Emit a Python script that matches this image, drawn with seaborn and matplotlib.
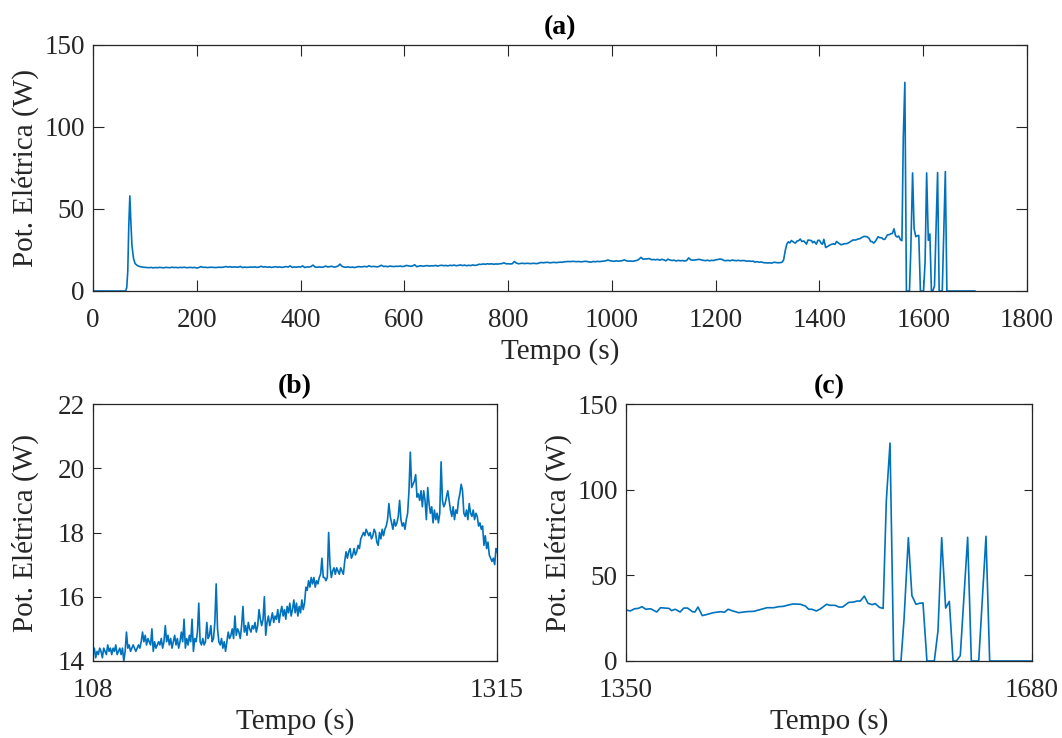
import numpy as np
import pandas as pd
import matplotlib
matplotlib.use("Agg")
import matplotlib.pyplot as plt
import seaborn as sns

# ---------------- data ----------------
# start of test (s, W)
t_head = [0, 63, 65, 67, 69, 71, 73, 75, 78, 81, 85, 89, 93, 97, 101, 105]
p_head = [0, 0, 2, 12, 40, 58, 42, 28, 20, 16.8, 15.6, 15.0, 14.7, 14.5, 14.4, 14.3]

# steady section, sampled every 4 s starting at 108 s (W)
mid_start = 108
mid_step = 4
p_mid = [
    14.2, 14.4, 14.1, 14.3, 14.2, 14.4, 14.3, 14.1, 14.4, 14.3, 14.2, 14.5, 14.3, 14.4, 14.2, 14.4, 14.3, 14.5, 14.2, 14.3, 14.4, 14.2, 14.4, 14.0, 14.3,
    14.9, 14.4, 14.5, 14.3, 14.4, 14.5, 14.4, 14.3, 14.4, 14.5, 14.4, 14.6, 14.9, 14.6, 14.8, 14.5, 14.7, 14.6, 14.5, 15.0, 14.3, 14.6, 14.4, 14.5, 14.6,
    14.5, 14.7, 14.4, 14.6, 15.1, 14.6, 14.8, 14.5, 14.7, 14.4, 14.6, 14.8, 14.5, 14.7, 14.4, 14.6, 14.9, 14.6, 15.3, 14.4, 14.7, 14.5, 14.8, 14.6, 15.3,
    14.3, 14.7, 14.6, 14.9, 15.8, 14.6, 14.5, 14.7, 14.5, 14.6, 15.2, 14.7, 14.8, 15.1, 14.6, 14.7, 15.2, 16.4, 15.0, 14.6, 14.5, 14.7, 14.4, 14.6, 14.3,
    14.6, 14.9, 14.7, 14.8, 15.0, 14.7, 15.4, 14.8, 15.0, 14.9, 14.7, 15.1, 15.7, 14.9, 15.1, 14.8, 15.2, 15.0, 14.9, 15.1, 15.0, 15.2, 14.9, 15.1, 15.6,
    15.3, 15.1, 15.3, 16.0, 14.8, 15.2, 15.4, 15.1, 15.3, 15.5, 15.2, 15.4, 15.3, 15.6, 15.2, 15.5, 15.7, 15.4, 15.6, 15.3, 15.7, 15.5, 15.8, 15.4, 15.6,
    15.9, 15.5, 15.8, 15.4, 15.7, 15.5, 15.9, 15.6, 15.8, 16.3, 16.2, 16.5, 16.3, 16.6, 16.4, 16.6, 16.3, 16.5, 16.4, 16.6, 16.7, 17.2, 16.6, 16.6, 16.5,
    16.6, 18.0, 17.0, 16.6, 16.8, 16.9, 16.7, 16.9, 16.8, 16.7, 16.9, 16.8, 16.7, 17.1, 17.4, 17.2, 17.4, 17.5, 17.2, 17.3, 17.5, 17.3, 17.4, 17.6, 17.5,
    17.8, 17.9, 18.0, 17.9, 18.1, 18.0, 17.9, 18.0, 17.8, 17.9, 18.1, 18.0, 17.7, 17.6, 18.0, 17.8, 18.1, 17.9, 18.1, 18.2, 18.4, 18.9, 18.5, 18.3, 18.1,
    18.4, 18.2, 18.3, 18.5, 19.0, 18.4, 18.2, 18.3, 18.1, 18.4, 18.6, 19.3, 20.5, 19.4, 19.5, 19.6, 19.8, 19.1, 19.2, 19.0, 19.3, 18.8, 19.3, 19.0, 18.4,
    19.4, 18.9, 18.6, 18.8, 18.3, 18.7, 18.4, 18.6, 18.3, 18.6, 20.2, 19.0, 18.8, 18.9, 19.1, 19.3, 19.0, 18.7, 18.5, 18.8, 18.4, 18.7, 18.6, 19.0, 19.2,
    19.5, 19.3, 18.6, 18.5, 18.7, 18.4, 18.9, 18.6, 18.5, 18.7, 18.4, 18.6, 18.5, 18.2, 18.3, 18.1, 18.2, 17.6, 17.9, 17.5, 17.7, 17.3, 17.2, 17.1, 17.2, 17.0, 17.5,
]

# end of test (s, W)
t_tail = [1316, 1320, 1324, 1328, 1331, 1334, 1337, 1340, 1343, 1346,
          1350, 1353.5, 1357, 1360, 1363, 1366, 1370, 1375, 1378, 1385,
          1387, 1390, 1394, 1397, 1400, 1404, 1406, 1408.5, 1412, 1416,
          1421, 1427, 1430, 1433, 1436, 1441.6, 1448, 1454, 1459, 1464.6,
          1470, 1474, 1478, 1482, 1486, 1491.7, 1495.8, 1498.5, 1501, 1504.7,
          1508, 1513, 1516, 1520, 1523, 1526, 1531, 1535, 1537.8, 1540.5,
          1543.7, 1546.7, 1550, 1552.6, 1556, 1559, 1561.6, 1564.6, 1567.6, 1573.5,
          1576, 1579.5, 1582.4, 1585.7, 1588.7, 1591.4, 1594.6, 1600.6, 1603.6, 1606.6,
          1609.8, 1612.8, 1615.8, 1618.5, 1621.7, 1627.7, 1630.7, 1636.7, 1642.6, 1645.6,
          1700]
p_tail = [17.4, 17.2, 17.3, 17.5, 19.0, 24.5, 28.5, 30.0, 29.3, 30.8,
          29.8, 29.2, 30.5, 30.7, 31.7, 30.2, 30.5, 28.6, 31.1, 30.7,
          29.4, 30.2, 28.6, 30.9, 30.9, 28.8, 28.6, 31.5, 26.5, 27.2,
          28.2, 28.8, 28.4, 30.2, 29.4, 28.2, 28.8, 29.0, 30.0, 31.1,
          31.1, 31.7, 31.9, 32.7, 33.3, 33.1, 32.1, 30.2, 30.2, 29.2,
          30.4, 33.1, 32.5, 32.5, 31.5, 31.5, 34.2, 34.4, 35.0, 35.0,
          37.9, 33.7, 32.9, 33.5, 31.3, 30.7, 93.6, 127.2, 0, 0,
          24.5, 72.0, 38.1, 33.1, 33.7, 33.9, 0, 0, 17.7, 72.0,
          30.9, 34.8, 0, 0, 3.1, 72.2, 0, 0, 72.8, 0,
          0]

xticks_b = [108, 1315]
xticks_c = [1350, 1680]
yticks_a = [0, 50, 100, 150]
yticks_b = [14, 16, 18, 20, 22]
yticks_c = [0, 50, 100, 150]
xticks_a = [0, 200, 400, 600, 800, 1000, 1200, 1400, 1600, 1800]

xlabel = "Tempo (s)"
ylabel = "Pot. Elétrica (W)"
titles = ["(a)", "(b)", "(c)"]

# ---------------- build table ----------------
t_mid = [mid_start + mid_step * i for i in range(len(p_mid))]
df = pd.DataFrame({
    "Tempo": list(t_head) + t_mid + list(t_tail),
    "Pot": list(p_head) + list(p_mid) + list(p_tail),
})

# ---------------- style ----------------
sns.set_theme(style="ticks")
plt.rcParams["font.family"] = ["Liberation Serif", "DejaVu Serif"]

line_color = "#0072BD"
axis_color = "#262626"
tick_fs = 19.5
label_fs = 21
title_fs = 20

fig = plt.figure(figsize=(10.62, 7.38), dpi=100)
ax_a = fig.add_axes([93 / 1062, 1 - 291 / 738, 934 / 1062, 246 / 738])
ax_b = fig.add_axes([93 / 1062, 1 - 661 / 738, 404 / 1062, 257 / 738])
ax_c = fig.add_axes([626 / 1062, 1 - 661 / 738, 406 / 1062, 257 / 738])


def style(ax, xlim, ylim, xt, yt, title, ylabelpad, ticklen):
    sns.lineplot(data=df, x="Tempo", y="Pot", ax=ax, color=line_color,
                 linewidth=1.2, estimator=None, sort=False)
    ax.set_xlim(*xlim)
    ax.set_ylim(*ylim)
    ax.set_xticks(xt)
    ax.set_yticks(yt)
    ax.tick_params(direction="in", top=True, right=True, length=ticklen, width=0.8,
                   colors=axis_color, labelsize=tick_fs)
    ax.tick_params(axis="x", pad=12)
    ax.tick_params(axis="y", pad=6)
    ax.set_xlabel(xlabel, fontsize=label_fs, color=axis_color, labelpad=4)
    ax.set_ylabel(ylabel, fontsize=label_fs, color=axis_color, labelpad=ylabelpad)
    ax.set_title(title, fontsize=title_fs, fontweight="bold", color="black", pad=8)
    for s in ax.spines.values():
        s.set_color(axis_color)
        s.set_linewidth(0.9)
        s.set_visible(True)


style(ax_a, (0, 1800), (0, 150), xticks_a, yticks_a, titles[0], 4, 8)
style(ax_b, (108, 1315), (14, 22), xticks_b, yticks_b, titles[1], 13, 6)
style(ax_c, (1350, 1680), (0, 150), xticks_c, yticks_c, titles[2], 4, 6)

fig.savefig("out.png", dpi=100)
